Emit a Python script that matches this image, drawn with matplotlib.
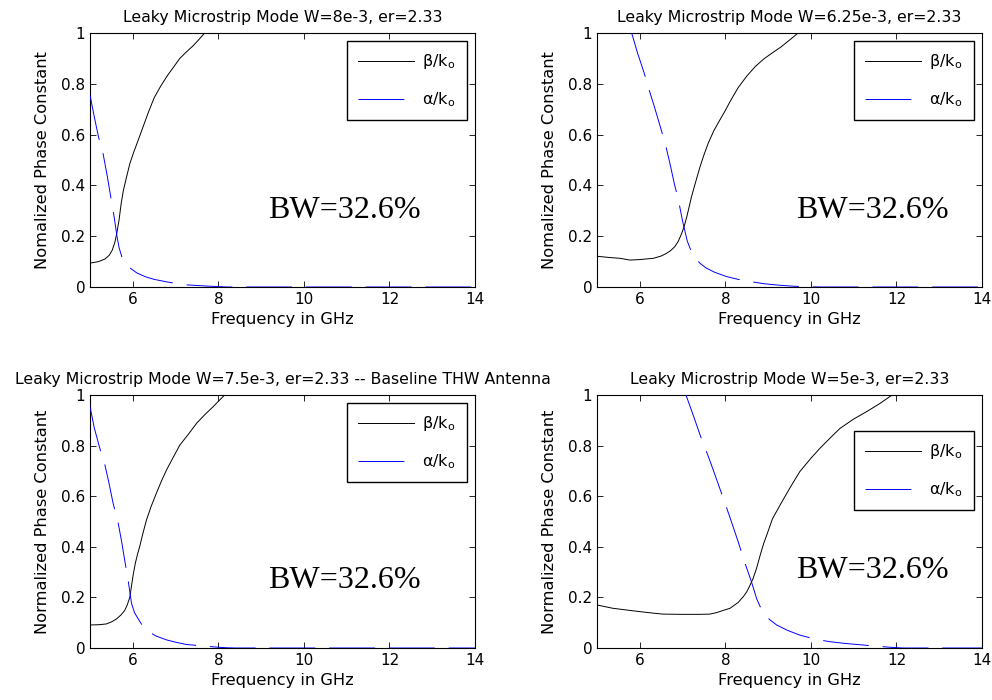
import numpy as np
import matplotlib
matplotlib.use("Agg")
import matplotlib.pyplot as plt

plt.rcParams["font.family"] = ["DejaVu Sans"]
plt.rcParams["font.size"] = 11
plt.rcParams["mathtext.fontset"] = "dejavusans"
plt.rcParams["lines.scale_dashes"] = False

# panel titles / labels
titles = [
    "Leaky Microstrip Mode W=8e-3, er=2.33",
    "Leaky Microstrip Mode W=6.25e-3, er=2.33",
    "Leaky Microstrip Mode W=7.5e-3, er=2.33 -- Baseline THW Antenna",
    "Leaky Microstrip Mode W=5e-3, er=2.33",
]
ylabels = [
    "Nomalized Phase Constant",
    "Nomalized Phase Constant",
    "Normalized Phase Constant",
    "Normalized Phase Constant",
]
bw_text = "BW=32.6%"

# W=8e-3
f_beta_1 = [5.0, 5.2, 5.35, 5.45, 5.52, 5.58, 5.63, 5.68, 5.73, 5.78, 5.85, 5.93, 6.02, 6.12,
            6.25, 6.37, 6.5, 6.65, 6.8, 6.95, 7.1, 7.25, 7.4, 7.55, 7.68]
beta_1 = [0.094, 0.100, 0.110, 0.125, 0.145, 0.175, 0.215, 0.265, 0.33, 0.38, 0.43, 0.485, 0.53,
          0.575, 0.635, 0.69, 0.745, 0.79, 0.83, 0.865, 0.90, 0.925, 0.948, 0.975, 1.0]
f_alpha_1 = [5.0, 5.1, 5.2, 5.3, 5.4, 5.5, 5.57, 5.63, 5.68, 5.75, 5.85, 5.95, 6.1, 6.3, 6.5,
             6.8, 7.2, 7.7, 8.2, 14.0]
alpha_1 = [0.756, 0.67, 0.59, 0.53, 0.44, 0.34, 0.27, 0.2, 0.155, 0.115, 0.09, 0.073, 0.055,
           0.04, 0.03, 0.02, 0.009, 0.004, 0.0, 0.0]

# W=6.25e-3
f_beta_2 = [5.0, 5.3, 5.54, 5.77, 6.0, 6.32, 6.5, 6.62, 6.72, 6.82, 6.9, 6.98, 7.04, 7.1, 7.16,
            7.21, 7.3, 7.41, 7.5, 7.6, 7.73, 7.87, 8.0, 8.11, 8.3, 8.5, 8.7, 8.9, 9.1, 9.3,
            9.5, 9.7]
beta_2 = [0.121, 0.116, 0.113, 0.106, 0.108, 0.113, 0.122, 0.132, 0.143, 0.159, 0.18, 0.211,
          0.24, 0.277, 0.32, 0.356, 0.41, 0.474, 0.52, 0.566, 0.615, 0.657, 0.695, 0.73, 0.785,
          0.83, 0.868, 0.898, 0.922, 0.945, 0.972, 1.0]
f_alpha_2 = [5.81, 5.95, 6.1, 6.2, 6.35, 6.49, 6.59, 6.7, 6.81, 6.9, 7.0, 7.11, 7.18, 7.25, 7.33,
             7.41, 7.55, 7.75, 8.03, 8.3, 8.56, 8.9, 9.26, 9.6, 9.9, 10.3, 14.0]
alpha_2 = [1.0, 0.92, 0.844, 0.786, 0.705, 0.625, 0.568, 0.49, 0.405, 0.345, 0.26, 0.181, 0.15,
           0.129, 0.108, 0.093, 0.075, 0.058, 0.041, 0.03, 0.022, 0.013, 0.007, 0.003, 0.001,
           0.0, 0.0]

# W=7.5e-3
f_beta_3 = [5.0, 5.2, 5.38, 5.5, 5.62, 5.72, 5.81, 5.87, 5.93, 5.97, 6.01, 6.06, 6.11, 6.16,
            6.24, 6.32, 6.43, 6.55, 6.67, 6.79, 6.95, 7.1, 7.3, 7.5, 7.7, 7.88, 8.0, 8.15]
beta_3 = [0.091, 0.092, 0.095, 0.103, 0.115, 0.13, 0.148, 0.17, 0.2, 0.245, 0.29, 0.335, 0.37,
          0.40, 0.455, 0.506, 0.56, 0.611, 0.66, 0.704, 0.755, 0.802, 0.845, 0.89, 0.925,
          0.954, 0.975, 1.0]
f_alpha_3 = [5.0, 5.1, 5.23, 5.34, 5.44, 5.54, 5.66, 5.74, 5.81, 5.89, 5.97, 6.04, 6.12, 6.22,
             6.36, 6.55, 6.79, 7.0, 7.25, 7.64, 8.0, 8.19, 8.4, 14.0]
alpha_3 = [0.954, 0.87, 0.789, 0.73, 0.655, 0.572, 0.493, 0.42, 0.348, 0.269, 0.177, 0.14,
           0.117, 0.09, 0.065, 0.047, 0.032, 0.023, 0.014, 0.008, 0.003, 0.001, 0.0, 0.0]

# W=5e-3
f_beta_4 = [5.0, 5.37, 5.7, 5.99, 6.3, 6.54, 7.0, 7.4, 7.64, 7.8, 7.94, 8.11, 8.3, 8.42, 8.5,
            8.56, 8.65, 8.73, 8.82, 8.9, 8.97, 9.1, 9.28, 9.5, 9.74, 10.0, 10.21, 10.45,
            10.68, 11.0, 11.3, 11.6, 11.9]
beta_4 = [0.17, 0.157, 0.15, 0.144, 0.138, 0.134, 0.133, 0.133, 0.134, 0.14, 0.148, 0.157,
          0.18, 0.203, 0.222, 0.242, 0.275, 0.315, 0.37, 0.415, 0.447, 0.51, 0.565, 0.63,
          0.697, 0.75, 0.789, 0.83, 0.868, 0.905, 0.934, 0.965, 1.0]
f_alpha_4 = [7.08, 7.25, 7.41, 7.64, 7.87, 8.1, 8.3, 8.45, 8.61, 8.73, 8.81, 8.89, 9.03, 9.2,
             9.45, 9.74, 10.1, 10.44, 10.8, 11.21, 11.55, 11.84, 12.15, 14.0]
alpha_4 = [1.0, 0.92, 0.842, 0.74, 0.631, 0.52, 0.42, 0.34, 0.262, 0.196, 0.165, 0.143, 0.113,
           0.091, 0.07, 0.051, 0.035, 0.025, 0.018, 0.012, 0.007, 0.003, 0.0, 0.0]

panels = [
    (f_beta_1, beta_1, f_alpha_1, alpha_1),
    (f_beta_2, beta_2, f_alpha_2, alpha_2),
    (f_beta_3, beta_3, f_alpha_3, alpha_3),
    (f_beta_4, beta_4, f_alpha_4, alpha_4),
]
# text position of the BW annotation in data coords
bw_pos = [(9.16, 0.27), (9.65, 0.27), (9.16, 0.237), (9.65, 0.277)]
legend_anchor = [1.0, 1.0, 1.0, 1.0 - 28 / 253]

xticks = [6, 8, 10, 12, 14]
yticks = [0, 0.2, 0.4, 0.6, 0.8, 1.0]
yticklabels = ["0", "0.2", "0.4", "0.6", "0.8", "1"]

fig = plt.figure(figsize=(9.92, 7.0), dpi=100)
rects = [
    [90 / 992, 1 - 287 / 700, 385 / 992, 254 / 700],
    [597 / 992, 1 - 287 / 700, 385 / 992, 254 / 700],
    [90 / 992, 1 - 648 / 700, 385 / 992, 253 / 700],
    [597 / 992, 1 - 648 / 700, 385 / 992, 253 / 700],
]

for i, (fb, b, fa, a) in enumerate(panels):
    ax = fig.add_axes(rects[i])
    ax.plot(fb, b, color="black", lw=0.7, label=r"$\mathrm{\beta/k_o}$", zorder=3)
    ax.plot(fa, a, color="blue", lw=0.7, dashes=(33, 10),
            label=r"$\mathrm{\alpha/k_o}$", zorder=3)
    ax.set_xlim(5, 14)
    ax.set_ylim(0, 1)
    ax.set_xticks(xticks)
    ax.set_xticklabels([str(t) for t in xticks])
    ax.set_yticks(yticks)
    ax.set_yticklabels(yticklabels)
    ax.tick_params(direction="in", length=4, width=0.6, top=True, right=True, labelsize=11)
    for s in ax.spines.values():
        s.set_linewidth(0.8)
    ax.set_title(titles[i], fontsize=11.3, pad=8)
    ax.set_xlabel("Frequency in GHz", fontsize=11.7, labelpad=4)
    ax.set_ylabel(ylabels[i], fontsize=11.7, labelpad=8)
    ax.text(bw_pos[i][0], bw_pos[i][1], bw_text, family="Liberation Serif",
            fontsize=23, va="baseline", ha="left")
    leg = ax.legend(loc="upper right", bbox_to_anchor=(1.0, legend_anchor[i]),
                    fancybox=False, edgecolor="black", framealpha=1,
                    handlelength=3.5, handletextpad=0.5, labelspacing=1.2,
                    borderpad=0.7, borderaxespad=0.5, fontsize=11.5)
    leg.get_frame().set_linewidth(1.0)

fig.savefig("out.png", dpi=100)
